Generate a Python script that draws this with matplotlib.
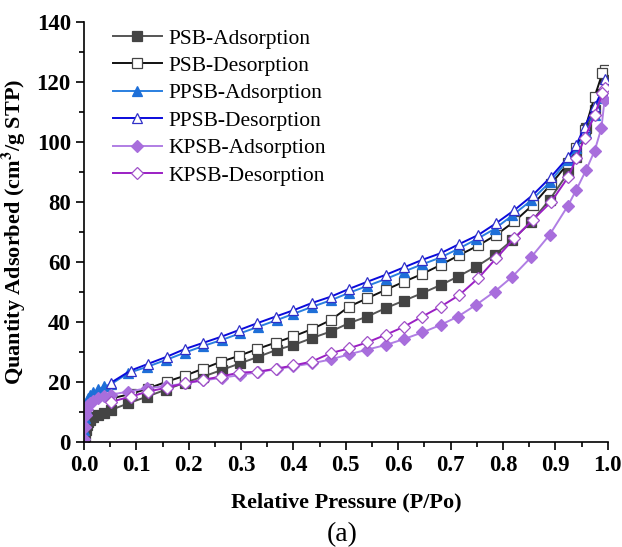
import matplotlib.pyplot as plt
from matplotlib.ticker import MultipleLocator

plt.rcParams['font.family'] = ['Liberation Serif', 'DejaVu Serif']
plt.rcParams['mathtext.fontset'] = 'stix'

# desorption branch pressures (shared by the three desorption series)
x_des = [0.995, 0.99, 0.975, 0.956, 0.94, 0.925, 0.892, 0.857, 0.822, 0.787,
         0.753, 0.717, 0.681, 0.646, 0.611, 0.576, 0.541, 0.506, 0.471, 0.435,
         0.40, 0.366, 0.331, 0.296, 0.261, 0.227, 0.193, 0.158, 0.122, 0.089, 0.052]

# adsorption branch pressures
x_ads = [0.001, 0.002, 0.003, 0.005, 0.008, 0.012, 0.018, 0.027, 0.039, 0.052,
         0.085, 0.12, 0.156, 0.193, 0.228, 0.263, 0.298, 0.333, 0.368, 0.40,
         0.435, 0.471, 0.506, 0.541, 0.576, 0.611, 0.646, 0.681, 0.714, 0.749,
         0.784, 0.818, 0.854, 0.889, 0.924, 0.94, 0.959, 0.975, 0.988, 0.994]

psb_ads = [0.5, 2.0, 4.0, 5.5, 6.5, 7.3, 8.2, 8.9, 9.7, 10.7,
           12.9, 15.1, 17.4, 19.8, 21.8, 24.0, 26.2, 28.4, 30.7, 32.3,
           34.6, 36.8, 39.6, 41.8, 44.6, 47.1, 49.6, 52.3, 55.1, 58.4,
           62.3, 67.3, 73.4, 80.7, 89.6, 95.0, 104.7, 110.5, 116.0, 121.0]
psb_des = [124.0, 123.0, 115.0, 104.0, 98.0, 93.0, 86.0, 79.0, 73.5, 69.0,
           65.5, 62.3, 59.0, 56.0, 53.4, 50.7, 47.9, 45.1, 40.6, 37.6,
           35.2, 33.1, 31.0, 28.7, 26.7, 24.4, 22.1, 20.1, 17.8, 16.0, 14.5]

ppsb_ads = [4.0, 8.0, 11.0, 13.0, 14.5, 15.5, 16.5, 17.5, 18.5, 19.3,
            23.0, 25.0, 27.3, 29.8, 32.0, 34.0, 36.2, 38.4, 40.6, 42.7,
            45.0, 47.2, 49.7, 52.0, 54.3, 56.8, 59.2, 61.5, 64.3, 67.5,
            71.0, 75.5, 80.5, 86.5, 94.0, 98.0, 103.0, 109.0, 114.5, 119.0]
ppsb_des = [121.0, 117.3, 111.8, 105.0, 99.0, 95.0, 88.4, 82.3, 77.3, 72.9,
            69.0, 66.0, 62.9, 60.7, 58.2, 55.7, 53.4, 51.0, 48.4, 46.3,
            43.9, 41.8, 39.6, 37.3, 35.0, 33.0, 31.0, 28.4, 26.0, 23.8, 19.8]

kpsb_ads = [1.0, 5.0, 9.0, 11.0, 12.3, 13.0, 13.8, 14.5, 15.2, 15.8,
            16.8, 17.9, 18.6, 19.5, 20.5, 21.4, 22.3, 23.3, 24.3, 25.2,
            26.2, 27.5, 29.2, 30.8, 32.3, 34.3, 36.5, 39.0, 41.8, 45.7,
            50.1, 55.1, 61.6, 69.0, 78.7, 84.0, 90.7, 97.0, 104.6, 114.0]
kpsb_des = [118.0, 116.2, 109.0, 101.2, 94.6, 88.4, 80.0, 74.0, 67.9, 61.2,
            54.6, 49.0, 45.1, 41.8, 38.4, 35.7, 33.2, 31.2, 29.6, 26.8,
            25.5, 24.4, 23.4, 23.1, 21.8, 20.7, 19.6, 18.1, 16.8, 15.1, 13.4]

series = [
    ('PSB-Adsorption', x_ads, psb_ads, 's', '#555555', '#444444', '#444444'),
    ('PSB-Desorption', x_des, psb_des, 's', '#111111', 'white', '#444444'),
    ('PPSB-Adsorption', x_ads, ppsb_ads, '^', '#2A7FE0', '#1E6FD8', '#1E6FD8'),
    ('PPSB-Desorption', x_des, ppsb_des, '^', '#0A0ADC', 'white', '#3030C8'),
    ('KPSB-Adsorption', x_ads, kpsb_ads, 'D', '#B07EE4', '#A86EDC', '#A86EDC'),
    ('KPSB-Desorption', x_des, kpsb_des, 'D', '#9B1FC4', 'white', '#A050C8'),
]

fig = plt.figure(figsize=(6.22, 5.47), dpi=100)
ax = fig.add_axes([0.135, 0.192, 0.842, 0.768])

for name, xs, ys, mk, lc, fc, ec in series:
    ms = 7.5 if mk == '^' else (6.5 if mk == 's' else 6.2)
    ax.plot(xs, ys, color=lc, lw=1.4, marker=mk, ms=ms,
            mfc=fc, mec=ec, mew=0.9, label=name)

ax.set_xlim(0, 1.0)
ax.set_ylim(0, 140)
ax.xaxis.set_major_locator(MultipleLocator(0.1))
ax.xaxis.set_minor_locator(MultipleLocator(0.05))
ax.yaxis.set_major_locator(MultipleLocator(20))
ax.yaxis.set_minor_locator(MultipleLocator(10))
ax.tick_params(which='major', direction='out', length=6, width=1.2, labelsize=16.5)
ax.tick_params(which='minor', direction='out', length=3.5, width=1.2)
for lab in ax.get_xticklabels() + ax.get_yticklabels():
    lab.set_fontweight('bold')

ax.spines['top'].set_visible(False)
ax.spines['right'].set_visible(False)
ax.spines['left'].set_linewidth(1.2)
ax.spines['bottom'].set_linewidth(1.2)

ax.set_xlabel('Relative Pressure (P/Po)', fontsize=16, fontweight='bold', labelpad=12)
ax.set_ylabel('Quantity Adsorbed (cm$^\\mathbf{3}$/g STP)', fontsize=16,
              fontweight='bold', labelpad=6)

leg = ax.legend(loc='upper left', bbox_to_anchor=(0.03, 1.015), frameon=False,
                fontsize=15.5, handlelength=2.3, handletextpad=0.3,
                labelspacing=0.34, borderaxespad=0.2)

fig.text(0.55, 0.0, '(a)', fontsize=20, ha='center', va='bottom')

fig.savefig('out.png', dpi=100)
